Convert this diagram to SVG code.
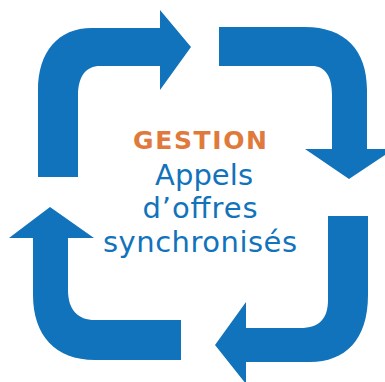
<svg xmlns="http://www.w3.org/2000/svg" width="385" height="382" viewBox="0 0 385 382">
<style>
.arrow{fill:#1173BB;stroke:none}
.t1{font-family:"DejaVu Sans","Liberation Sans",sans-serif;font-weight:bold;font-size:25px;fill:#E07A3C;text-anchor:middle}
.t2{font-family:"DejaVu Sans","Liberation Sans",sans-serif;font-size:29px;fill:#1173BB;text-anchor:middle}
</style>
<rect width="385" height="382" fill="#ffffff"/>
<g id="connectors">
<path id="arrow-top-left" class="arrow" d="M38,177 L38,90 C38,52 58,28 92,28 L160,28 L160,10 L191,47 L160,90 L160,66 L100,66 C86,66 78,76 78,96 L78,177 Z"/>
<path id="arrow-top-right" class="arrow" d="M219,27 L305,27 C345,27 367,50 367,90 L367,149 L394,149 L349,179 L305,149 L332,149 L332,95 C332,76 325,66 312,66 L219,66 Z"/>
<path id="arrow-bottom-right" class="arrow" d="M328,216 L368,216 L368,295 C368,340 345,362 310,362 L246,362 L246,384 L215,345 L246,302 L246,328 L300,328 C320,328 328,318 328,300 Z"/>
<path id="arrow-bottom-left" class="arrow" d="M181,360 L95,360 C55,360 33,335 33,295 L33,238 L9,238 L50,207 L94,238 L68,238 L68,290 C68,310 78,320 95,320 L181,320 Z"/>
</g>
<g id="label">
<text class="t1" x="200" y="149" textLength="134" lengthAdjust="spacing">GESTION</text>
<text class="t2" x="204" y="185" textLength="98" lengthAdjust="spacing">Appels</text>
<text class="t2" x="200" y="218" textLength="115" lengthAdjust="spacing">d’offres</text>
<text class="t2" x="200" y="252" textLength="194" lengthAdjust="spacing">synchronisés</text>
</g>
</svg>
